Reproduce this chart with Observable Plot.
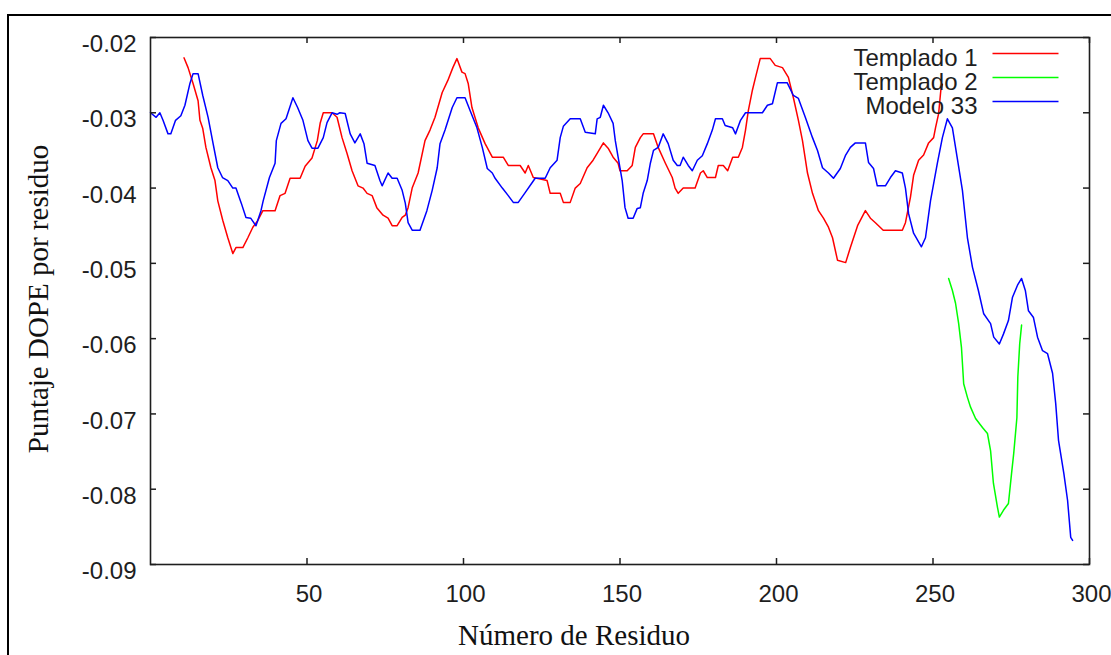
<!DOCTYPE html>
<html><head><meta charset="utf-8">
<script src="https://cdn.jsdelivr.net/npm/d3@7"></script>
<script src="https://cdn.jsdelivr.net/npm/@observablehq/plot@0.6"></script>
<style>
html,body{margin:0;padding:0;background:#fff;overflow:hidden;}
#wrap{position:relative;width:1111px;height:655px;overflow:hidden;}
#border{position:absolute;left:7px;top:14px;width:1130px;height:670px;border-top:2px solid #000;border-left:2px solid #000;pointer-events:none;}
</style></head>
<body><div id="wrap"><div id="chart"></div><div id="border"></div></div>
<script>
// ---- Data ----
const residuoT1 = [10.7,12,13.6,15.2,15.8,16.7,17.7,19.3,20.6,21.5,23.1,24.7,26.3,27.3,29.5,31.1,32.7,34.3,35.9,39.8,41.4,43,44.6,47.8,49.4,51.6,53.3,54.2,55.2,58,59.6,61.2,62.8,64.4,66.3,67.9,69.2,70.8,72.3,74.3,75.9,77.2,78.8,80.4,81.4,82.3,83.6,85.5,87.7,89.3,90.9,93.2,95,96.6,97.9,99.5,100.5,101.5,102.7,104.7,106.9,109.2,112.7,114.3,118.1,119.7,120.7,122.3,126.7,127.7,130.9,131.9,134.1,135.7,137.3,139.5,141.4,142.7,144.7,146.2,147.8,149.4,150,152.3,153.9,154.9,156.5,157.4,160.7,162.2,164.5,166.7,167.6,168.6,170.2,174,175.7,176.6,177.9,180.5,181.4,183,184.4,186,187.8,189.1,190.1,191,192.3,193.3,194.8,198,199.6,201.9,203.8,205.4,207,208.3,209.9,211.5,213.4,215,216.6,217.9,219.5,222.1,223.6,225.9,228.4,230,231.6,234.1,240.2,241.2,242.8,243.8,245.4,247,248.6,250.2,250.8,251.8,252.5,253];
const dopeT1 = [-0.0227,-0.024,-0.0261,-0.0284,-0.031,-0.0321,-0.0346,-0.0373,-0.039,-0.0417,-0.0443,-0.0466,-0.0487,-0.0479,-0.0479,-0.0466,-0.0452,-0.0443,-0.043,-0.043,-0.041,-0.0407,-0.0387,-0.0387,-0.0371,-0.036,-0.0337,-0.0314,-0.030,-0.030,-0.0306,-0.0333,-0.0354,-0.0377,-0.0397,-0.040,-0.0407,-0.041,-0.0426,-0.0436,-0.044,-0.045,-0.045,-0.0439,-0.0436,-0.0426,-0.040,-0.038,-0.0337,-0.0323,-0.0306,-0.0273,-0.0257,-0.024,-0.0228,-0.0246,-0.0248,-0.0261,-0.0293,-0.032,-0.0341,-0.0359,-0.0359,-0.037,-0.037,-0.038,-0.037,-0.0386,-0.039,-0.0407,-0.0407,-0.0419,-0.0419,-0.040,-0.0394,-0.0373,-0.0363,-0.0354,-0.034,-0.0347,-0.0359,-0.0367,-0.0377,-0.0377,-0.037,-0.0346,-0.0333,-0.0328,-0.0328,-0.0346,-0.0367,-0.0386,-0.040,-0.0407,-0.040,-0.040,-0.038,-0.0377,-0.0386,-0.0386,-0.037,-0.037,-0.0377,-0.0359,-0.0359,-0.0346,-0.0323,-0.0297,-0.027,-0.0253,-0.0228,-0.0228,-0.0237,-0.024,-0.0253,-0.028,-0.031,-0.0337,-0.038,-0.0407,-0.043,-0.044,-0.0452,-0.0466,-0.0496,-0.0499,-0.0479,-0.045,-0.043,-0.044,-0.0446,-0.0456,-0.0456,-0.0446,-0.0412,-0.0383,-0.0363,-0.0356,-0.034,-0.0333,-0.032,-0.0301,-0.027,-0.0262];

const residuoT2 = [255,256.2,257.2,258.2,259.1,259.8,261,262,263.6,265.8,267.4,268.4,269.3,270.6,271.2,272.5,274.1,275.1,275.8,276.8,277.1,277.7,278.3];
const dopeT2 = [-0.052,-0.0536,-0.0553,-0.058,-0.0612,-0.066,-0.0678,-0.0691,-0.0706,-0.0718,-0.0726,-0.0749,-0.0792,-0.0824,-0.0837,-0.0828,-0.0819,-0.0779,-0.0752,-0.0705,-0.0651,-0.0607,-0.0582];

const residuoM33 = [0,1.8,3,4,5.6,6.5,8,9.7,11,12.6,13.6,15.2,16.7,18.4,20,21.5,23,24.7,26.3,27.3,29,30.5,32,33.7,35.3,36,38,39.8,40.2,41.7,43.3,45.5,47,48.7,50.3,51.6,53.5,55.2,56.4,58,59.6,60.5,62.2,63.8,65.3,67,68.2,69.2,71.7,73.3,74,75.9,77.2,78.8,80.4,81.4,82.3,83.6,86.1,88.3,90,91.6,92.5,94.1,96.4,97.9,100.5,102.1,104.3,106,107.6,109.2,110.1,112.4,114.3,115.9,117.5,119.7,121.9,122.9,126.1,127.7,129.9,130.9,131.9,134.1,137.3,138.9,142.1,142.7,143.7,144.7,146.2,147.8,148.5,149.4,150.7,151.6,152.6,154.2,155.5,156.5,157.4,158.7,159.7,160.7,162.2,163.8,165.4,167,168.3,169.2,170.2,171.8,173.1,174.7,176.3,177.9,179.5,180.5,182.7,183.6,186,186.9,188.5,190.1,195.5,197.1,198.7,200.3,203.4,205.4,207,209.2,211.5,213.1,214.7,216.6,218.2,220.4,222,223.6,225.2,228.4,229.4,231,232.2,234.8,236.4,238,240.2,241.2,242.2,243.8,246.3,247.6,249.2,251.4,253,254.6,256.2,257.7,259.4,261,262.6,264.5,266.2,268.4,269.4,271.2,272.5,274.1,275.4,277,278.3,279.5,280.5,282.1,283.4,285,286.6,288.2,289.2,290.1,291.8,293,294,294.6];
const dopeM33 = [-0.030,-0.0306,-0.030,-0.031,-0.0328,-0.0328,-0.031,-0.0304,-0.029,-0.0261,-0.0248,-0.0248,-0.0277,-0.0306,-0.0341,-0.0373,-0.0386,-0.039,-0.040,-0.040,-0.042,-0.0439,-0.044,-0.045,-0.043,-0.0417,-0.0386,-0.0367,-0.0337,-0.0314,-0.0308,-0.028,-0.0293,-0.031,-0.0337,-0.0347,-0.0347,-0.0333,-0.0313,-0.030,-0.0302,-0.030,-0.0301,-0.0328,-0.034,-0.0328,-0.0341,-0.0367,-0.037,-0.039,-0.0397,-0.038,-0.0387,-0.0387,-0.0403,-0.042,-0.0446,-0.0456,-0.0456,-0.043,-0.0403,-0.0373,-0.0341,-0.0323,-0.0293,-0.028,-0.028,-0.0297,-0.032,-0.0346,-0.0374,-0.038,-0.0387,-0.040,-0.041,-0.0419,-0.0419,-0.0406,-0.0393,-0.0387,-0.0387,-0.0373,-0.0363,-0.0333,-0.0318,-0.0308,-0.0308,-0.0326,-0.0328,-0.0308,-0.0306,-0.029,-0.030,-0.0314,-0.0337,-0.0359,-0.039,-0.0426,-0.044,-0.044,-0.0427,-0.0426,-0.0407,-0.039,-0.0367,-0.035,-0.0346,-0.0328,-0.0341,-0.0363,-0.037,-0.037,-0.0359,-0.037,-0.0377,-0.0363,-0.0357,-0.0341,-0.0323,-0.0308,-0.0308,-0.0317,-0.032,-0.0328,-0.031,-0.030,-0.030,-0.029,-0.0288,-0.026,-0.026,-0.0277,-0.0281,-0.0306,-0.0333,-0.035,-0.0373,-0.038,-0.0387,-0.0374,-0.0357,-0.0346,-0.034,-0.034,-0.0366,-0.0374,-0.0397,-0.0397,-0.0386,-0.0377,-0.038,-0.040,-0.0434,-0.046,-0.0478,-0.0466,-0.0417,-0.0367,-0.0333,-0.0308,-0.032,-0.0359,-0.0403,-0.0466,-0.0505,-0.0536,-0.0567,-0.058,-0.0598,-0.0607,-0.0594,-0.0576,-0.0545,-0.0529,-0.052,-0.0536,-0.0563,-0.0572,-0.0598,-0.0616,-0.062,-0.0646,-0.0686,-0.0735,-0.0779,-0.0815,-0.0864,-0.0868];

const seriesNames = ["Templado 1", "Templado 2", "Modelo 33"];
const seriesColors = ["#ff0000", "#00ff00", "#0000ff"];
const xTicks = [50, 100, 150, 200, 250, 300];
const yTicks = [-0.02, -0.03, -0.04, -0.05, -0.06, -0.07, -0.08, -0.09];
const xTitle = "Número de Residuo";
const yTitle = "Puntaje DOPE por residuo";

// ---- Layout ----
const W = 1111, H = 655;
const mL = 150, mR = 22, mT = 37, mB = 91;
const frameW = W - mL - mR, frameH = H - mT - mB;
const tickLen = 6;
const ink = "#1e1e1e";
const sans = "Liberation Sans, Arial, sans-serif";
const serif = "Liberation Serif, Times New Roman, serif";

const seriesData = [
  d3.zip(residuoT1, dopeT1),
  d3.zip(residuoT2, dopeT2),
  d3.zip(residuoM33, dopeM33)
];

const swatch = {draw(ctx) { ctx.moveTo(-33, 0); ctx.lineTo(33, 0); }};

const marks = [
  ...seriesData.map((data, i) => Plot.line(data, {x: d => d[0], y: d => d[1], stroke: seriesColors[i], strokeWidth: 1.5})),
  Plot.frame({stroke: ink, strokeWidth: 1.6}),
  Plot.tickX(xTicks, {x: d => d, insetTop: frameH - tickLen, stroke: ink, strokeWidth: 1.5}),
  Plot.tickX(xTicks, {x: d => d, insetBottom: frameH - tickLen, stroke: ink, strokeWidth: 1.5}),
  Plot.tickY(yTicks, {y: d => d, insetRight: frameW - tickLen, stroke: ink, strokeWidth: 1.5}),
  Plot.tickY(yTicks, {y: d => d, insetLeft: frameW - tickLen, stroke: ink, strokeWidth: 1.5}),
  Plot.axisY({ticks: yTicks, tickSize: 0, tickPadding: 14, dy: 7, tickFormat: d => d.toFixed(2), fontSize: 24, fontFamily: sans, color: ink, label: null}),
  Plot.axisX({ticks: xTicks, tickSize: 0, tickPadding: 20, dx: 2, fontSize: 24, fontFamily: sans, color: ink, label: null}),
  Plot.text([yTitle], {frameAnchor: "left", dx: -112, dy: -2, rotate: -90, textAnchor: "middle", lineAnchor: "middle", fontSize: 29, fontFamily: serif, fill: "#111"}),
  Plot.text([xTitle], {frameAnchor: "bottom", dx: -46, dy: 71, textAnchor: "middle", lineAnchor: "middle", fontSize: 29, fontFamily: serif, fill: "#111"}),
  ...seriesNames.map((name, i) => Plot.text([name], {frameAnchor: "top-right", dx: -112, dy: 21 + 24 * i, textAnchor: "end", lineAnchor: "middle", fontSize: 24, fontFamily: sans, fill: ink})),
  ...seriesNames.map((name, i) => Plot.dot([name], {frameAnchor: "top-right", dx: -64, dy: 16 + 24 * i, symbol: swatch, stroke: seriesColors[i], strokeWidth: 1.5, fill: "none"}))
];

const chart = Plot.plot({
  width: W, height: H,
  marginLeft: mL, marginRight: mR, marginTop: mT, marginBottom: mB,
  style: {background: "#fff", fontFamily: sans},
  x: {domain: [0, 300]},
  y: {domain: [-0.09, -0.02]},
  marks
});
document.getElementById("chart").appendChild(chart);
</script>
</body></html>
